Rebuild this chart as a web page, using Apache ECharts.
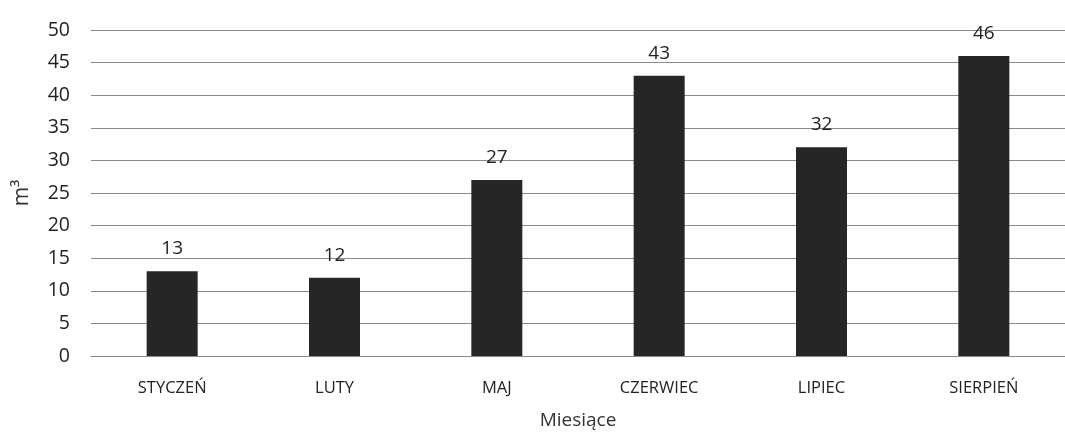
<!DOCTYPE html>
<html><head><meta charset="utf-8">
<script src="https://cdn.jsdelivr.net/npm/echarts@6/dist/echarts.min.js"></script>
<style>html,body{margin:0;padding:0;background:#fff}#c{width:1065px;height:439px}</style>
</head><body><div id="c"></div>
<script>
const categories = ['STYCZEŃ','LUTY','MAJ','CZERWIEC','LIPIEC','SIERPIEŃ'];
const values = [13, 12, 27, 43, 32, 46];
const yTicks = {min: 0, max: 50, interval: 5};
const xAxisName = 'Miesiące';
const yAxisName = 'm³';

const chart = echarts.init(document.getElementById('c'));
chart.setOption({
  animation: false,
  backgroundColor: '#fff',
  grid: {left: 91, right: -2, top: 30, bottom: 83},
  xAxis: {
    type: 'category', data: categories,
    name: xAxisName, nameLocation: 'middle', nameGap: 55,
    nameTextStyle: {fontFamily: 'Open Sans', fontSize: 19, color: '#333'},
    axisLine: {show: true, lineStyle: {color: '#888', width: 1.2}},
    axisTick: {show: false},
    axisLabel: {fontFamily: 'Open Sans', fontSize: 16.5, color: '#222', margin: 24}
  },
  yAxis: {
    type: 'value', min: yTicks.min, max: yTicks.max, interval: yTicks.interval,
    name: yAxisName, nameLocation: 'middle', nameGap: 58, nameRotate: 90,
    nameTextStyle: {fontFamily: 'Open Sans', fontSize: 21, color: '#333'},
    axisLine: {show: false}, axisTick: {show: false},
    axisLabel: {fontFamily: 'Open Sans', fontSize: 19.5, color: '#222', margin: 21},
    splitLine: {lineStyle: {color: '#8a8a8a', width: 1.2}}
  },
  series: [{
    type: 'bar', data: values, barWidth: 51,
    itemStyle: {color: '#262626'},
    label: {show: true, position: 'top', distance: 13, fontFamily: 'Open Sans', fontSize: 19, color: '#222'}
  }]
});
</script></body></html>
